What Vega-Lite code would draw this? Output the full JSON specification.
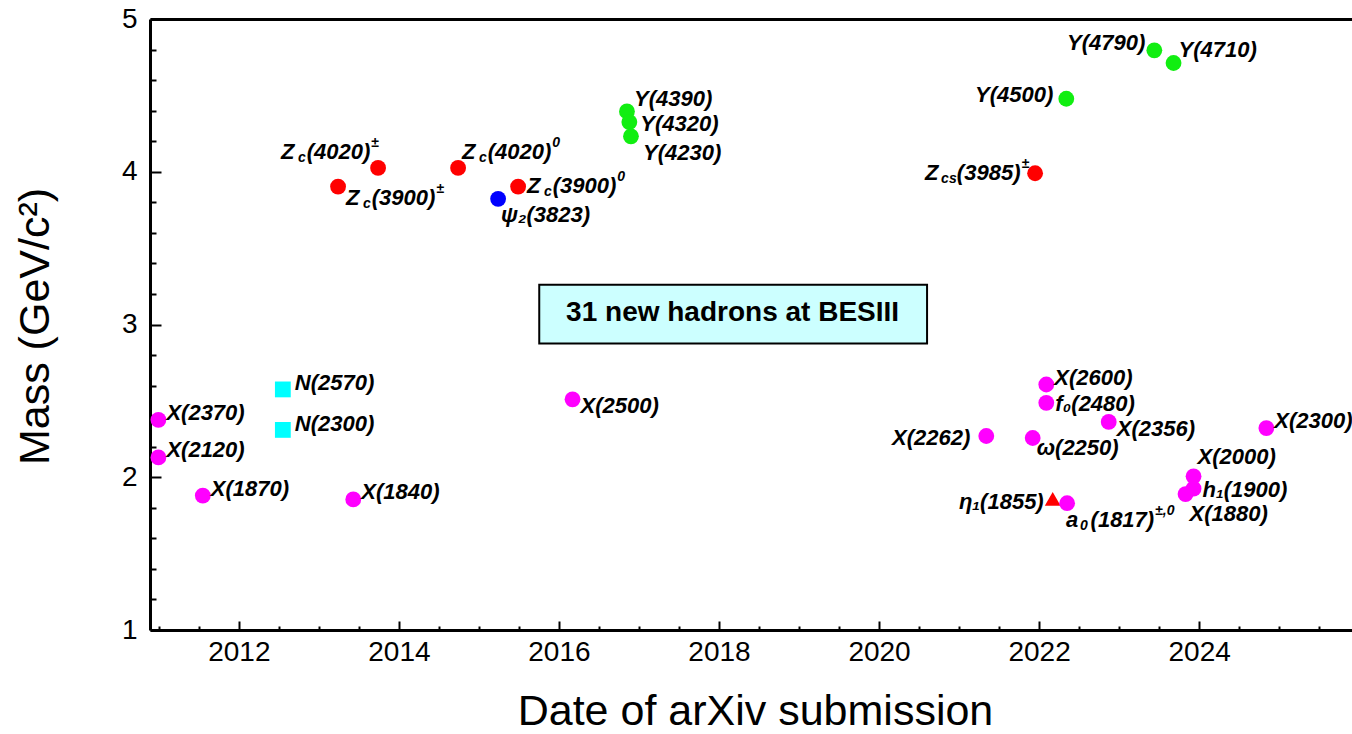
{
"$schema": "https://vega.github.io/schema/vega-lite/v6.json",
"width": 1202, "height": 611,
"autosize": "none",
"padding": {"left": 150, "top": 19, "right": 0, "bottom": 104},
"background": "white",
"config": {
  "view": {"stroke": null},
  "text": {"font": "Liberation Sans", "fontSize": 22, "fontStyle": "italic", "fontWeight": "bold", "baseline": "middle", "align": "left", "color": "#000000"},
  "axis": {"grid": false, "domainColor": "#000000", "tickColor": "#000000", "labelColor": "#000000", "titleColor": "#000000", "labelFont": "Liberation Sans", "titleFont": "Liberation Sans"}
},
"datasets": {
  "hadrons": [
  {"particle": "X(2370)", "year": 2010.995, "mass": 2.376, "type": "light"},
  {"particle": "X(2120)", "year": 2010.995, "mass": 2.13, "type": "light"},
  {"particle": "X(1870)", "year": 2011.55, "mass": 1.88, "type": "light"},
  {"particle": "N(2570)", "year": 2012.55, "mass": 2.575, "type": "N"},
  {"particle": "N(2300)", "year": 2012.55, "mass": 2.31, "type": "N"},
  {"particle": "X(1840)", "year": 2013.43, "mass": 1.855, "type": "light"},
  {"particle": "Zc(3900)±", "year": 2013.24, "mass": 3.903, "type": "Zc"},
  {"particle": "Zc(4020)±", "year": 2013.74, "mass": 4.025, "type": "Zc"},
  {"particle": "Zc(4020)0", "year": 2014.74, "mass": 4.025, "type": "Zc"},
  {"particle": "Zc(3900)0", "year": 2015.49, "mass": 3.903, "type": "Zc"},
  {"particle": "ψ₂(3823)", "year": 2015.24, "mass": 3.823, "type": "psi"},
  {"particle": "X(2500)", "year": 2016.17, "mass": 2.51, "type": "light"},
  {"particle": "Y(4390)", "year": 2016.85, "mass": 4.395, "type": "Y"},
  {"particle": "Y(4320)", "year": 2016.88, "mass": 4.325, "type": "Y"},
  {"particle": "Y(4230)", "year": 2016.9, "mass": 4.232, "type": "Y"},
  {"particle": "Y(4500)", "year": 2022.34, "mass": 4.478, "type": "Y"},
  {"particle": "Y(4790)", "year": 2023.44, "mass": 4.795, "type": "Y"},
  {"particle": "Y(4710)", "year": 2023.68, "mass": 4.712, "type": "Y"},
  {"particle": "Zcs(3985)±", "year": 2021.95, "mass": 3.99, "type": "Zc"},
  {"particle": "X(2600)", "year": 2022.09, "mass": 2.607, "type": "light"},
  {"particle": "f₀(2480)", "year": 2022.09, "mass": 2.487, "type": "light"},
  {"particle": "X(2356)", "year": 2022.87, "mass": 2.362, "type": "light"},
  {"particle": "X(2262)", "year": 2021.34, "mass": 2.27, "type": "light"},
  {"particle": "ω(2250)", "year": 2021.92, "mass": 2.257, "type": "light"},
  {"particle": "X(2300)", "year": 2024.84, "mass": 2.322, "type": "light"},
  {"particle": "X(2000)", "year": 2023.93, "mass": 2.006, "type": "light"},
  {"particle": "h₁(1900)", "year": 2023.93, "mass": 1.925, "type": "light"},
  {"particle": "X(1880)", "year": 2023.83, "mass": 1.89, "type": "light"},
  {"particle": "η₁(1855)", "year": 2022.17, "mass": 1.858, "type": "hybrid"},
  {"particle": "a₀(1817)±,0", "year": 2022.35, "mass": 1.83, "type": "light"}
  ],
  "note": [
  {"note": "31 new hadrons at BESIII", "from": 2015.754, "to": 2020.6, "low": 2.875, "high": 3.26, "mid_year": 2018.17, "mid_mass": 3.075}
  ]
},
"data": {"name": "hadrons"},
"encoding": {
  "x": {"field": "year", "type": "quantitative", "scale": {"domain": [2010.89, 2025.91], "nice": false, "zero": false}, "axis": null},
  "y": {"field": "mass", "type": "quantitative", "scale": {"domain": [1, 5], "nice": false, "zero": false}, "axis": null}
},
"layer": [
  {"data": {"name": "note"},
   "mark": {"type": "rect", "fill": "#ccffff", "stroke": "#000000", "strokeWidth": 2},
   "encoding": {
     "x": {"field": "from", "type": "quantitative", "scale": {"domain": [2010.89, 2025.91], "nice": false, "zero": false}, "axis": null},
     "x2": {"field": "to"},
     "y": {"field": "high", "type": "quantitative", "scale": {"domain": [1, 5], "nice": false, "zero": false}, "axis": null},
     "y2": {"field": "low"}}},
  {"data": {"name": "note"},
   "mark": {"type": "text", "fontSize": 28, "fontStyle": "normal", "fontWeight": "bold", "align": "center"},
   "encoding": {
     "x": {"field": "mid_year", "type": "quantitative", "scale": {"domain": [2010.89, 2025.91], "nice": false, "zero": false}, "axis": null},
     "y": {"field": "mid_mass", "type": "quantitative", "scale": {"domain": [1, 5], "nice": false, "zero": false}, "axis": null},
     "text": {"field": "note"}}},
  {"mark": {"type": "point", "opacity": 0},
   "encoding": {
     "x": {"field": "year", "type": "quantitative", "scale": {"domain": [2010.89, 2025.91], "nice": false, "zero": false},
           "axis": {"orient": "bottom", "values": [2012, 2014, 2016, 2018, 2020, 2022, 2024], "tickSize": -9, "tickWidth": 2, "labels": false, "domain": false, "title": null}},
     "y": {"field": "mass", "type": "quantitative", "scale": {"domain": [1, 5], "nice": false, "zero": false},
           "axis": {"orient": "left", "values": [1, 2, 3, 4, 5], "tickSize": -11, "tickWidth": 2, "labels": false, "domain": false, "title": null}}}},
  {"mark": {"type": "point", "opacity": 0},
   "encoding": {
     "x": {"field": "year", "type": "quantitative", "scale": {"domain": [2010.89, 2025.91], "nice": false, "zero": false},
           "axis": {"orient": "bottom", "values": [2011, 2011.5, 2012.5, 2013, 2013.5, 2014.5, 2015, 2015.5, 2016.5, 2017, 2017.5, 2018.5, 2019, 2019.5, 2020.5, 2021, 2021.5, 2022.5, 2023, 2023.5, 2024.5, 2025, 2025.5], "tickSize": -4, "tickWidth": 2, "labels": false, "domain": false, "title": null}},
     "y": {"field": "mass", "type": "quantitative", "scale": {"domain": [1, 5], "nice": false, "zero": false},
           "axis": {"orient": "left", "values": [1.2, 1.4, 1.6, 1.8, 2.2, 2.4, 2.6, 2.8, 3.2, 3.4, 3.6, 3.8, 4.2, 4.4, 4.6, 4.8], "tickSize": -6, "tickWidth": 2, "labels": false, "domain": false, "title": null}}}},
  {"mark": {"type": "point", "opacity": 0},
   "encoding": {
     "x": {"field": "year", "type": "quantitative", "scale": {"domain": [2010.89, 2025.91], "nice": false, "zero": false},
           "axis": {"orient": "top", "ticks": false, "labels": false, "domain": true, "domainWidth": 3, "title": null}}}},
  {"mark": {"type": "point", "filled": true, "opacity": 1, "strokeWidth": 0, "size": 250},
   "encoding": {
     "x": {"field": "year", "type": "quantitative", "scale": {"domain": [2010.89, 2025.91], "nice": false, "zero": false},
           "axis": {"orient": "bottom", "values": [2012, 2014, 2016, 2018, 2020, 2022, 2024], "format": "d", "ticks": false, "domain": true, "domainWidth": 3, "labelFontSize": 28, "labelPadding": 8, "labelFlush": false, "labelOverlap": false,
                    "title": "Date of arXiv submission", "titleFontSize": 43, "titleFontWeight": "normal", "titleX": 605, "titleY": 94, "titleAlign": "center", "titleBaseline": "alphabetic", "titleAngle": 0}},
     "y": {"field": "mass", "type": "quantitative", "scale": {"domain": [1, 5], "nice": false, "zero": false},
           "axis": {"orient": "left", "values": [1, 2, 3, 4, 5], "format": "d", "ticks": false, "domain": true, "domainWidth": 3, "labelFontSize": 28, "labelPadding": 13, "labelFlush": false, "labelOverlap": false,
                    "title": "Mass (GeV/c²)", "titleFontSize": 43, "titleFontWeight": "normal", "titleAngle": 270, "titleX": -102, "titleY": 307, "titleAlign": "center", "titleBaseline": "alphabetic"}},
     "color": {"field": "type", "type": "nominal", "legend": null,
               "scale": {"domain": ["light", "Zc", "Y", "N", "psi", "hybrid"], "range": ["#ff00ff", "#ff0000", "#11ee11", "#00ffff", "#0000ff", "#ff0000"]}},
     "shape": {"field": "type", "type": "nominal", "legend": null,
               "scale": {"domain": ["light", "Zc", "Y", "N", "psi", "hybrid"], "range": ["circle", "circle", "circle", "square", "circle", "triangle-up"]}}}},
  {"transform": [{"filter": {"field": "particle", "oneOf": ["X(2370)", "X(2120)", "X(1870)", "X(1840)", "X(2600)", "X(2300)"]}}],
   "mark": {"type": "text", "dx": 8, "dy": -7}, "encoding": {"text": {"field": "particle"}}},
  {"transform": [{"filter": {"field": "particle", "oneOf": ["N(2570)", "N(2300)"]}}],
   "mark": {"type": "text", "dx": 12, "dy": -6}, "encoding": {"text": {"field": "particle"}}},
  {"transform": [{"filter": {"field": "particle", "oneOf": ["X(2500)", "X(2356)"]}}],
   "mark": {"type": "text", "dx": 8, "dy": 7}, "encoding": {"text": {"field": "particle"}}},
  {"transform": [{"filter": {"field": "particle", "oneOf": ["f₀(2480)", "h₁(1900)"]}}],
   "mark": {"type": "text", "dx": 9, "dy": 1}, "encoding": {"text": {"field": "particle"}}},
  {"transform": [{"filter": {"field": "particle", "equal": "Y(4390)"}}],
   "mark": {"type": "text", "dx": 7, "dy": -12}, "encoding": {"text": {"field": "particle"}}},
  {"transform": [{"filter": {"field": "particle", "equal": "Y(4320)"}}],
   "mark": {"type": "text", "dx": 11, "dy": 2}, "encoding": {"text": {"field": "particle"}}},
  {"transform": [{"filter": {"field": "particle", "equal": "Y(4230)"}}],
   "mark": {"type": "text", "dx": 12, "dy": 17}, "encoding": {"text": {"field": "particle"}}},
  {"transform": [{"filter": {"field": "particle", "equal": "ψ₂(3823)"}}],
   "mark": {"type": "text", "dx": 3, "dy": 16}, "encoding": {"text": {"field": "particle"}}},
  {"transform": [{"filter": {"field": "particle", "equal": "Y(4790)"}}],
   "mark": {"type": "text", "align": "right", "dx": -9, "dy": -7}, "encoding": {"text": {"field": "particle"}}},
  {"transform": [{"filter": {"field": "particle", "equal": "Y(4710)"}}],
   "mark": {"type": "text", "dx": 5, "dy": -13}, "encoding": {"text": {"field": "particle"}}},
  {"transform": [{"filter": {"field": "particle", "equal": "Y(4500)"}}],
   "mark": {"type": "text", "align": "right", "dx": -13, "dy": -4}, "encoding": {"text": {"field": "particle"}}},
  {"transform": [{"filter": {"field": "particle", "equal": "X(2262)"}}],
   "mark": {"type": "text", "align": "right", "dx": -16, "dy": 2}, "encoding": {"text": {"field": "particle"}}},
  {"transform": [{"filter": {"field": "particle", "equal": "ω(2250)"}}],
   "mark": {"type": "text", "dx": 4, "dy": 10}, "encoding": {"text": {"field": "particle"}}},
  {"transform": [{"filter": {"field": "particle", "equal": "X(2000)"}}],
   "mark": {"type": "text", "dx": 4, "dy": -19}, "encoding": {"text": {"field": "particle"}}},
  {"transform": [{"filter": {"field": "particle", "equal": "X(1880)"}}],
   "mark": {"type": "text", "dx": 4, "dy": 20}, "encoding": {"text": {"field": "particle"}}},
  {"transform": [{"filter": {"field": "particle", "equal": "η₁(1855)"}}],
   "mark": {"type": "text", "align": "right", "dx": -9, "dy": 3}, "encoding": {"text": {"field": "particle"}}},

  {"transform": [{"filter": {"field": "particle", "equal": "Zc(4020)±"}}], "mark": {"type": "text", "text": "Z\u00a0\u00a0(4020)", "dx": -97, "dy": -16}},
  {"transform": [{"filter": {"field": "particle", "equal": "Zc(4020)±"}}], "mark": {"type": "text", "text": "c", "fontSize": 14, "dx": -80, "dy": -10}},
  {"transform": [{"filter": {"field": "particle", "equal": "Zc(4020)±"}}], "mark": {"type": "text", "text": "±", "fontSize": 14, "dx": -7, "dy": -25}},

  {"transform": [{"filter": {"field": "particle", "equal": "Zc(4020)0"}}], "mark": {"type": "text", "text": "Z\u00a0\u00a0(4020)", "dx": 4, "dy": -16}},
  {"transform": [{"filter": {"field": "particle", "equal": "Zc(4020)0"}}], "mark": {"type": "text", "text": "c", "fontSize": 14, "dx": 21, "dy": -10}},
  {"transform": [{"filter": {"field": "particle", "equal": "Zc(4020)0"}}], "mark": {"type": "text", "text": "0", "fontSize": 14, "dx": 94.2, "dy": -25}},

  {"transform": [{"filter": {"field": "particle", "equal": "Zc(3900)±"}}], "mark": {"type": "text", "text": "Z\u00a0\u00a0(3900)", "dx": 8, "dy": 11}},
  {"transform": [{"filter": {"field": "particle", "equal": "Zc(3900)±"}}], "mark": {"type": "text", "text": "c", "fontSize": 14, "dx": 25, "dy": 17}},
  {"transform": [{"filter": {"field": "particle", "equal": "Zc(3900)±"}}], "mark": {"type": "text", "text": "±", "fontSize": 14, "dx": 98.2, "dy": 2}},

  {"transform": [{"filter": {"field": "particle", "equal": "Zc(3900)0"}}], "mark": {"type": "text", "text": "Z\u00a0\u00a0(3900)", "dx": 9, "dy": -1}},
  {"transform": [{"filter": {"field": "particle", "equal": "Zc(3900)0"}}], "mark": {"type": "text", "text": "c", "fontSize": 14, "dx": 26, "dy": 5}},
  {"transform": [{"filter": {"field": "particle", "equal": "Zc(3900)0"}}], "mark": {"type": "text", "text": "0", "fontSize": 14, "dx": 99.2, "dy": -10}},

  {"transform": [{"filter": {"field": "particle", "equal": "Zcs(3985)±"}}], "mark": {"type": "text", "text": "Z\u00a0\u00a0\u00a0(3985)", "dx": -110, "dy": 0}},
  {"transform": [{"filter": {"field": "particle", "equal": "Zcs(3985)±"}}], "mark": {"type": "text", "text": "cs", "fontSize": 14, "dx": -94, "dy": 6}},
  {"transform": [{"filter": {"field": "particle", "equal": "Zcs(3985)±"}}], "mark": {"type": "text", "text": "±", "fontSize": 14, "dx": -13.7, "dy": -9}},

  {"transform": [{"filter": {"field": "particle", "equal": "a₀(1817)±,0"}}], "mark": {"type": "text", "text": "a\u00a0\u00a0(1817)", "dx": -1, "dy": 17}},
  {"transform": [{"filter": {"field": "particle", "equal": "a₀(1817)±,0"}}], "mark": {"type": "text", "text": "0", "fontSize": 14, "dx": 13, "dy": 23}},
  {"transform": [{"filter": {"field": "particle", "equal": "a₀(1817)±,0"}}], "mark": {"type": "text", "text": "±,0", "fontSize": 14, "dx": 88, "dy": 8}}
],
"resolve": {"axis": {"x": "independent", "y": "independent"}}
}
